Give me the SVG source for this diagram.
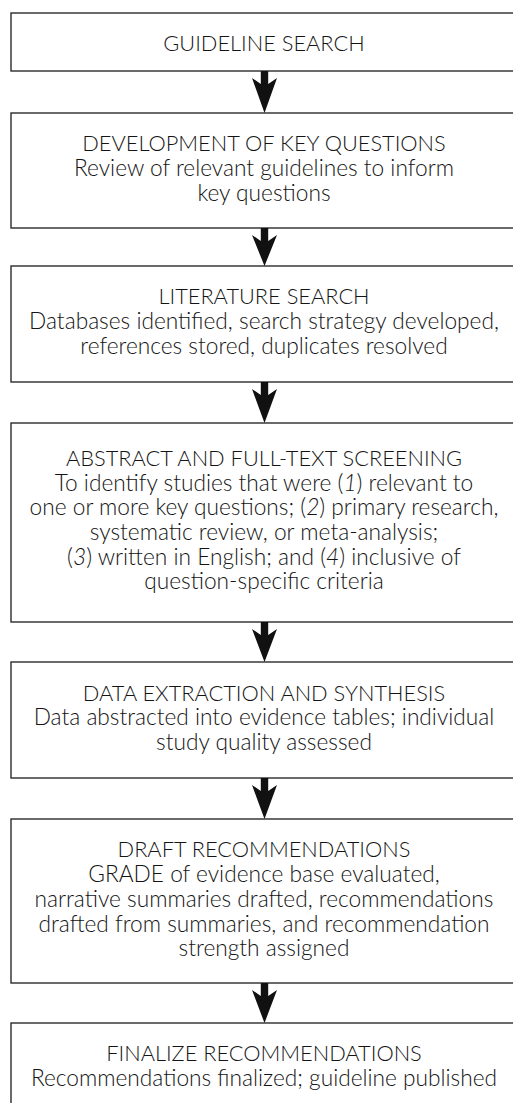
<svg xmlns="http://www.w3.org/2000/svg" width="513" height="1103" viewBox="0 0 513 1103">
<style>
.box{fill:#fff;stroke:#2b2b2b;stroke-width:1.4}
.t{font-family:Lato,"Noto Sans","Liberation Sans",sans-serif;font-weight:300;font-size:21.8px;fill:#141414;text-anchor:middle}
.b{font-size:22.7px}
.arr{fill:#111}
</style>
<rect width="513" height="1103" fill="#fff"/>
<g id="n1"><rect class="box" x="11" y="13" width="510" height="58"/>
<text class="t" x="264" y="51">GUIDELINE SEARCH</text></g>
<g id="n2"><rect class="box" x="11" y="113" width="510" height="115"/>
<text class="t" x="264" y="151">DEVELOPMENT OF KEY QUESTIONS</text>
<text class="t b" x="264" y="176">Review of relevant guidelines to inform</text>
<text class="t b" x="264" y="201">key questions</text></g>
<g id="n3"><rect class="box" x="11" y="266" width="510" height="116"/>
<text class="t" x="264" y="304">LITERATURE SEARCH</text>
<text class="t b" x="264" y="329">Databases identified, search strategy developed,</text>
<text class="t b" x="264" y="354">references stored, duplicates resolved</text></g>
<g id="n4"><rect class="box" x="11" y="423" width="510" height="199"/>
<text class="t" x="264" y="466">ABSTRACT AND FULL-TEXT SCREENING</text>
<text class="t b" x="264" y="490.5">To identify studies that were (<tspan font-style="italic">1</tspan>) relevant to</text>
<text class="t b" x="264" y="515">one or more key questions; (<tspan font-style="italic">2</tspan>) primary research,</text>
<text class="t b" x="264" y="540">systematic review, or meta-analysis;</text>
<text class="t b" x="264" y="564.5">(<tspan font-style="italic">3</tspan>) written in English; and (<tspan font-style="italic">4</tspan>) inclusive of</text>
<text class="t b" x="264" y="589">question-specific criteria</text></g>
<g id="n5"><rect class="box" x="11" y="662" width="510" height="116"/>
<text class="t" x="264" y="700.5">DATA EXTRACTION AND SYNTHESIS</text>
<text class="t b" x="264" y="725">Data abstracted into evidence tables; individual</text>
<text class="t b" x="264" y="750">study quality assessed</text></g>
<g id="n6"><rect class="box" x="11" y="819" width="510" height="164"/>
<text class="t" x="264" y="857">DRAFT RECOMMENDATIONS</text>
<text class="t b" x="264" y="881.5">GRADE of evidence base evaluated,</text>
<text class="t b" x="264" y="906.5">narrative summaries drafted, recommendations</text>
<text class="t b" x="264" y="931.5">drafted from summaries, and recommendation</text>
<text class="t b" x="264" y="956">strength assigned</text></g>
<g id="n7"><rect class="box" x="11" y="1023" width="510" height="100"/>
<text class="t" x="264" y="1061">FINALIZE RECOMMENDATIONS</text>
<text class="t b" x="264" y="1086">Recommendations finalized; guideline published</text></g>
<g id="connectors">
<polygon class="arr" points="260.8,71 268.2,71 268.2,84 277,78 264.5,113 252,78 260.8,84"/>
<polygon class="arr" points="260.8,228 268.2,228 268.2,241 277,235 264.5,266 252,235 260.8,241"/>
<polygon class="arr" points="260.8,382 268.2,382 268.2,395 277,389 264.5,423 252,389 260.8,395"/>
<polygon class="arr" points="260.8,622 268.2,622 268.2,635 277,629 264.5,662 252,629 260.8,635"/>
<polygon class="arr" points="260.8,778 268.2,778 268.2,791 277,785 264.5,819 252,785 260.8,791"/>
<polygon class="arr" points="260.8,983 268.2,983 268.2,996 277,990 264.5,1023 252,990 260.8,996"/>
</g>
</svg>
